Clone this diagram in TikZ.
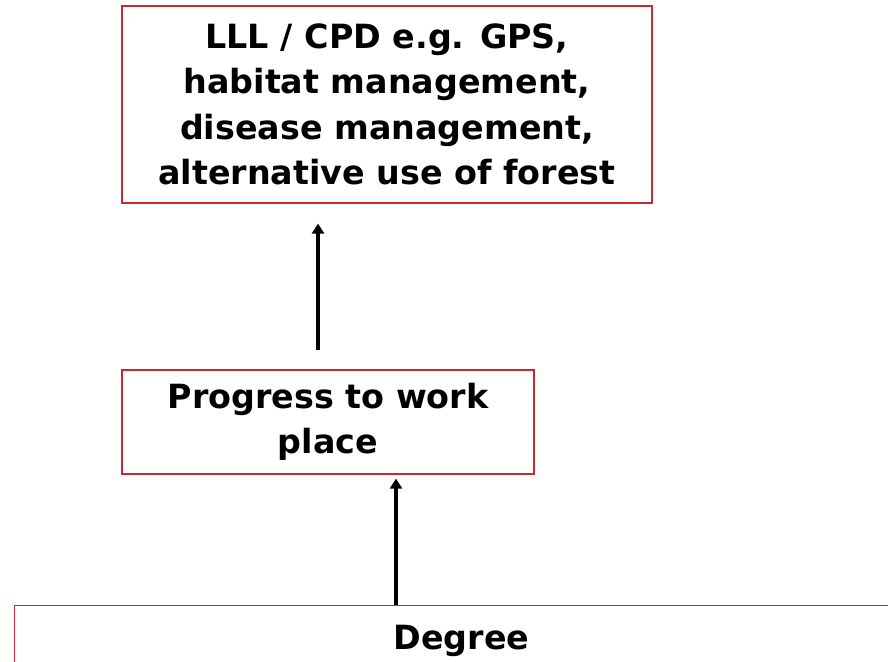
\documentclass[tikz,border=0pt]{standalone}
\usepackage{fontspec}
\setmainfont{DejaVu Sans}
\usetikzlibrary{arrows.meta}
\definecolor{boxred}{RGB}{200,40,50}
\newcommand{\stagefont}{\fontsize{25}{34}\selectfont\bfseries}
\tikzset{
  stagebox/.style={rectangle, draw=boxred, line width=0.9pt, align=center, inner sep=0pt, font=\stagefont},
  uparrow/.style={-{Triangle[length=7.5pt,width=9pt]}, line width=2.8pt},
}
\begin{document}
\begin{tikzpicture}[x=0.75pt, y=-0.75pt]
    \useasboundingbox (0,0) rectangle (888,661);
    \node[stagebox, minimum width=397.5pt, minimum height=147.75pt] (lll) at (387, 104.5) {LLL / CPD e.g. GPS,\\habitat management,\\disease management,\\alternative use of forest};
    \node[stagebox, minimum width=309pt, minimum height=78pt] (work) at (328, 422) {Progress to work\\place};
    \node[stagebox, anchor=north west, minimum width=800pt, minimum height=150pt] (degreebox) at (14, 605) {};
    \node[font=\stagefont, inner sep=0pt, anchor=base] (degree) at (461.5, 649) {Degree};
    \coordinate (rise) at (318, 0);
    \coordinate (climb) at (396, 0);
    \draw[uparrow] ([yshift=14.25pt]work.north -| rise) -- ([yshift=-15pt]lll.south -| rise);
    \draw[uparrow] (degreebox.north -| climb) -- ([yshift=-3pt]work.south -| climb);
\end{tikzpicture}
\end{document}
